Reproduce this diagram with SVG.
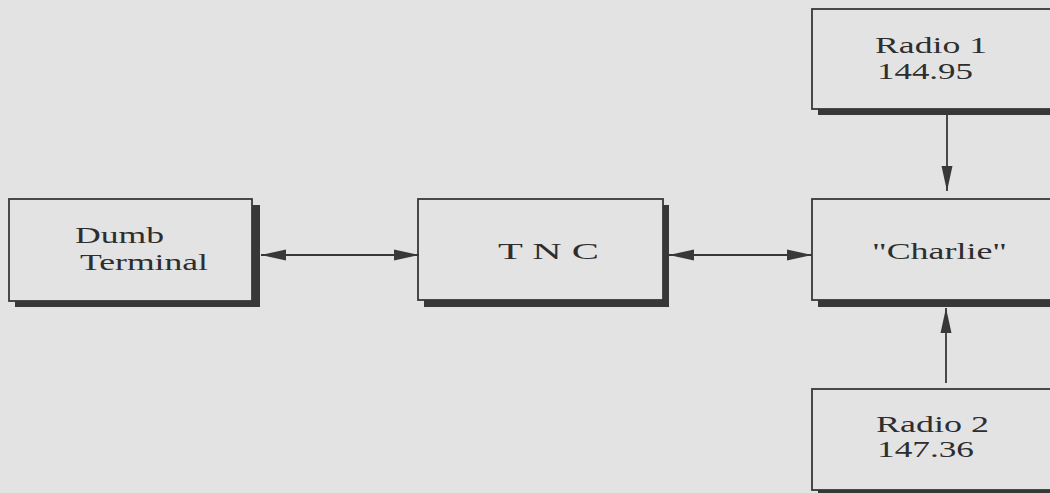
<svg xmlns="http://www.w3.org/2000/svg" width="1050" height="493" viewBox="0 0 1050 493">
<defs>
<style>
.shadow{fill:#383838}
.box{fill:#e3e3e3;stroke:#383838;stroke-width:1.8}
.lbl{font-family:"Liberation Serif","Times New Roman",serif;font-size:24px;fill:#2e2e2e}
.conn{stroke:#383838;stroke-width:1.8;fill:none}
</style>
<marker id="ah" markerUnits="userSpaceOnUse" markerWidth="26" markerHeight="12" viewBox="0 0 26 12" refX="25" refY="6" orient="auto-start-reverse">
<path d="M0,0.5 L25,6 L0,11.5 Z" fill="#383838"/>
</marker>
</defs>
<rect width="1050" height="493" fill="#e3e3e3"/>
<g id="dumb-terminal">
<rect class="shadow" x="15" y="205" width="245" height="102"/>
<rect class="box" x="9" y="199" width="243" height="102"/>
<text class="lbl" x="75" y="243" textLength="89" lengthAdjust="spacingAndGlyphs">Dumb</text>
<text class="lbl" x="80" y="270" textLength="128" lengthAdjust="spacingAndGlyphs">Terminal</text>
</g>
<g id="tnc">
<rect class="shadow" x="424" y="205" width="245" height="102"/>
<rect class="box" x="418" y="199" width="245" height="101"/>
<text class="lbl" x="498" y="259" textLength="101" lengthAdjust="spacingAndGlyphs">T N C</text>
</g>
<g id="charlie">
<rect class="shadow" x="818" y="205" width="260" height="102"/>
<rect class="box" x="812" y="199" width="260" height="101"/>
<text class="lbl" x="872" y="259" textLength="135" lengthAdjust="spacingAndGlyphs">"Charlie"</text>
</g>
<g id="radio1">
<rect class="shadow" x="818" y="15" width="260" height="100"/>
<rect class="box" x="812" y="9" width="260" height="100"/>
<text class="lbl" x="875" y="53" textLength="112" lengthAdjust="spacingAndGlyphs">Radio 1</text>
<text class="lbl" x="877" y="79" textLength="96" lengthAdjust="spacingAndGlyphs">144.95</text>
</g>
<g id="radio2">
<rect class="shadow" x="818" y="395" width="260" height="101"/>
<rect class="box" x="812" y="389" width="260" height="101"/>
<text class="lbl" x="876" y="432" textLength="113" lengthAdjust="spacingAndGlyphs">Radio 2</text>
<text class="lbl" x="877" y="457" textLength="97" lengthAdjust="spacingAndGlyphs">147.36</text>
</g>
<g id="connectors">
<line class="conn" x1="261" y1="255" x2="419" y2="255" marker-start="url(#ah)" marker-end="url(#ah)"/>
<line class="conn" x1="669" y1="255" x2="812" y2="255" marker-start="url(#ah)" marker-end="url(#ah)"/>
<line class="conn" x1="947" y1="115" x2="947" y2="191" marker-end="url(#ah)"/>
<line class="conn" x1="946" y1="383" x2="946" y2="308" marker-end="url(#ah)"/>
</g>
</svg>
